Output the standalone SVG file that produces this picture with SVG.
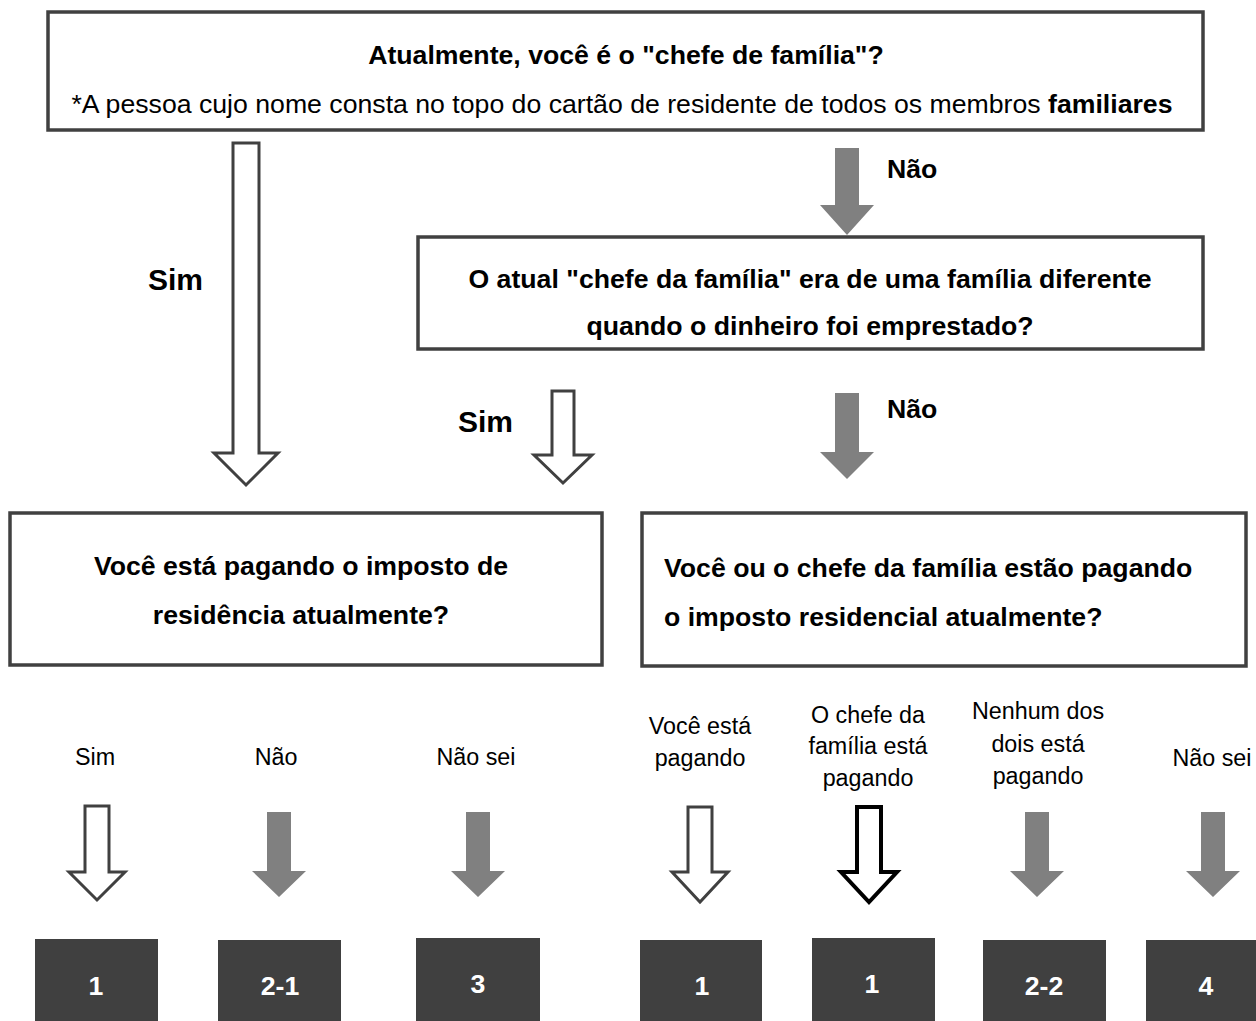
<svg xmlns="http://www.w3.org/2000/svg" width="1256" height="1021" viewBox="0 0 1256 1021">
<style>
text{font-family:"Liberation Sans",Arial,sans-serif;fill:#000}
.q{font-size:26.67px;font-weight:bold}
.r{font-size:26.67px}
.lb{font-size:23.3px}
.big{font-size:30px;font-weight:bold}
.box{fill:#fff;stroke:#404040;stroke-width:3.5}
.res{fill:#404040}
.num{font-size:26.67px;font-weight:bold;fill:#fff;text-anchor:middle}
.ho{fill:#fff;stroke:#404040;stroke-width:3;stroke-linejoin:miter}
.hb{fill:#fff;stroke:#000;stroke-width:4;stroke-linejoin:miter}
.gr{fill:#808080}
.c{text-anchor:middle}
</style>
<rect width="1256" height="1021" fill="#fff"/>
<g id="q1">
<rect class="box" x="48" y="12" width="1155" height="118"/>
<text class="q c" x="626" y="64">Atualmente, você é o "chefe de família"?</text>
<text class="r c" x="622" y="113">*A pessoa cujo nome consta no topo do cartão de residente de todos os membros <tspan font-weight="bold">familiares</tspan></text>
</g>
<g id="q2">
<rect class="box" x="418" y="237" width="785" height="112"/>
<text class="q c" x="810" y="288">O atual "chefe da família" era de uma família diferente</text>
<text class="q c" x="810" y="335">quando o dinheiro foi emprestado?</text>
</g>
<g id="q3">
<rect class="box" x="10" y="513" width="592" height="152"/>
<text class="q c" x="301" y="575">Você está pagando o imposto de</text>
<text class="q c" x="301" y="624">residência atualmente?</text>
</g>
<g id="q4">
<rect class="box" x="642" y="513" width="604" height="153"/>
<text class="q" x="664" y="577">Você ou o chefe da família estão pagando</text>
<text class="q" x="664" y="626">o imposto residencial atualmente?</text>
</g>
<g id="connectors">
<path class="ho" d="M233,143 H259 V453 H278 L246,485 L214,453 H233 Z"/>
<text class="big" x="148" y="290">Sim</text>
<path class="gr" d="M835,148 H859 V205 H874 L847,235 L820,205 H835 Z"/>
<text class="q" x="887" y="178">Não</text>
<path class="ho" d="M552,391 H574 V455 H592 L563,483 L534,455 H552 Z"/>
<text class="big" x="458" y="432">Sim</text>
<path class="gr" d="M835,393 H859 V452 H874 L847,479 L820,452 H835 Z"/>
<text class="q" x="887" y="418">Não</text>

<text class="lb c" x="95" y="765">Sim</text>
<text class="lb c" x="276" y="765">Não</text>
<text class="lb c" x="476" y="765">Não sei</text>
<path class="ho" d="M85,806 H109 V872 H125 L97,900 L69,872 H85 Z"/>
<path class="gr" d="M267,812 H291 V871 H306 L279,897 L252,871 H267 Z"/>
<path class="gr" d="M466,812 H490 V871 H505 L478,897 L451,871 H466 Z"/>

<text class="lb c" x="700" y="734">Você está</text>
<text class="lb c" x="700" y="766">pagando</text>
<text class="lb c" x="868" y="723">O chefe da</text>
<text class="lb c" x="868" y="754">família está</text>
<text class="lb c" x="868" y="786">pagando</text>
<text class="lb c" x="1038" y="719">Nenhum dos</text>
<text class="lb c" x="1038" y="752">dois está</text>
<text class="lb c" x="1038" y="784">pagando</text>
<text class="lb c" x="1212" y="766">Não sei</text>
<path class="ho" d="M688,807 H712 V872 H728 L700,902 L672,872 H688 Z"/>
<path class="hb" d="M857,807 H881 V872 H897 L869,902 L841,872 H857 Z"/>
<path class="gr" d="M1025,812 H1049 V871 H1064 L1037,897 L1010,871 H1025 Z"/>
<path class="gr" d="M1201,812 H1225 V871 H1240 L1213,897 L1186,871 H1201 Z"/>
</g>
<g id="r1"><rect class="res" x="35" y="939" width="123" height="90"/><text class="num" x="96" y="995">1</text></g>
<g id="r21"><rect class="res" x="218" y="940" width="123" height="90"/><text class="num" x="280" y="995">2-1</text></g>
<g id="r3"><rect class="res" x="416" y="938" width="124" height="90"/><text class="num" x="478" y="993">3</text></g>
<g id="r1b"><rect class="res" x="640" y="940" width="122" height="90"/><text class="num" x="702" y="995">1</text></g>
<g id="r1c"><rect class="res" x="812" y="938" width="123" height="90"/><text class="num" x="872" y="993">1</text></g>
<g id="r22"><rect class="res" x="983" y="940" width="123" height="90"/><text class="num" x="1044" y="995">2-2</text></g>
<g id="r4"><rect class="res" x="1146" y="940" width="123" height="90"/><text class="num" x="1206" y="995">4</text></g>
</svg>
